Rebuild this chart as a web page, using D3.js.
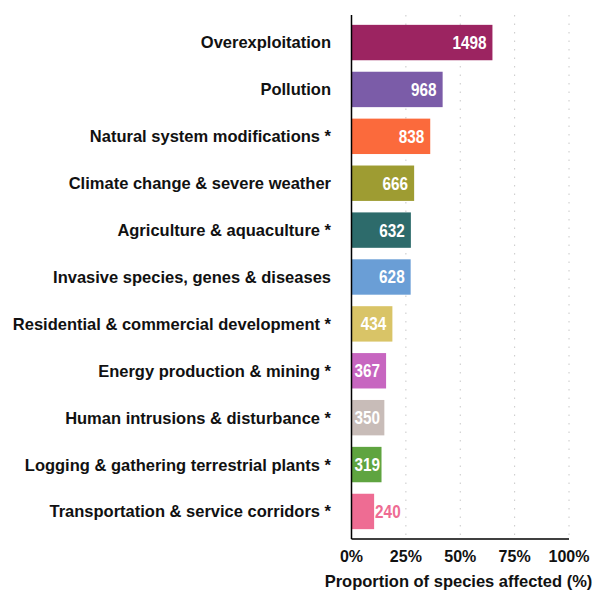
<!DOCTYPE html>
<html>
<head>
<meta charset="utf-8">
<script src="https://cdn.jsdelivr.net/npm/d3@7"></script>
<style>
  html, body { margin: 0; padding: 0; background: #ffffff; }
  svg { display: block; }
  text { font-family: "Liberation Sans", Arial, sans-serif; font-weight: bold; }
</style>
</head>
<body>
<svg id="chart" width="596" height="590"></svg>
<script>
// ---- data ----
const categories = [
  "Overexploitation",
  "Pollution",
  "Natural system modifications *",
  "Climate change & severe weather",
  "Agriculture & aquaculture *",
  "Invasive species, genes & diseases",
  "Residential & commercial development *",
  "Energy production & mining *",
  "Human intrusions & disturbance *",
  "Logging & gathering terrestrial plants *",
  "Transportation & service corridors *"
];
const speciesCounts = [1498, 968, 838, 666, 632, 628, 434, 367, 350, 319, 240];
const percentAffected = [64.8, 41.9, 36.2, 28.8, 27.3, 27.2, 18.8, 15.9, 15.1, 13.8, 10.4];
const barColors = ["#9c2461", "#7b5ca8", "#fb6a3c", "#9e9c32", "#2d6b6b", "#6a9ed6",
                   "#d9c467", "#c766c0", "#c8bcb8", "#5fa440", "#ee6c93"];
const xTicks = [0, 25, 50, 75, 100];
const xTickLabels = ["0%", "25%", "50%", "75%", "100%"];
const xAxisTitle = "Proportion of species affected (%)";

// ---- layout ----
const svg = d3.select("#chart");
const plotLeft = 351.5, plotRight = 569, plotTop = 15, plotBottom = 539;

const x = d3.scaleLinear().domain([0, 100]).range([plotLeft, plotRight]);
const y = d3.scaleBand().domain(categories).range([plotTop, plotBottom])
  .paddingInner(0.245).paddingOuter(0.21);

// gridlines (dotted)
svg.append("g").selectAll("line")
  .data(xTicks.slice(1))
  .join("line")
  .attr("x1", d => x(d)).attr("x2", d => x(d))
  .attr("y1", plotTop).attr("y2", plotBottom)
  .attr("stroke", "#c8c8c8")
  .attr("stroke-width", 1)
  .attr("stroke-dasharray", "1.5,7");

// bars
const rows = categories.map((c, i) => ({ c, n: speciesCounts[i], p: percentAffected[i], col: barColors[i] }));
svg.append("g").selectAll("rect")
  .data(rows)
  .join("rect")
  .attr("x", x(0))
  .attr("y", d => y(d.c))
  .attr("width", d => x(d.p) - x(0))
  .attr("height", y.bandwidth())
  .attr("fill", d => d.col);

// value labels (condensed)
const lbl = svg.append("g").selectAll("text")
  .data(rows)
  .join("text")
  .attr("y", d => y(d.c) + y.bandwidth() / 2)
  .attr("dy", "0.36em")
  .style("font-size", "18px")
  .text(d => d.n);
lbl.each(function(d) {
  const w = this.getComputedTextLength() * 0.85;
  const t = d3.select(this);
  t.attr("textLength", w).attr("lengthAdjust", "spacingAndGlyphs");
  const barEnd = x(d.p);
  const xr = Math.max(barEnd - 6, x(0) + 3 + w);
  if (xr <= barEnd + 1) {
    t.attr("x", xr - w).attr("fill", "#ffffff");
  } else {
    t.attr("x", barEnd + 1).attr("fill", d.col);
  }
});

// category labels
svg.append("g").selectAll("text")
  .data(categories)
  .join("text")
  .attr("x", 331)
  .attr("y", d => y(d) + y.bandwidth() / 2)
  .attr("dy", "0.36em")
  .attr("text-anchor", "end")
  .attr("fill", "#111111")
  .style("font-size", "16.5px")
  .text(d => d);

// axes lines
svg.append("line")
  .attr("x1", x(0)).attr("x2", x(0))
  .attr("y1", plotTop).attr("y2", plotBottom)
  .attr("stroke", "#000").attr("stroke-width", 1.5);
svg.append("line")
  .attr("x1", x(0)).attr("x2", x(100))
  .attr("y1", plotBottom).attr("y2", plotBottom)
  .attr("stroke", "#000").attr("stroke-width", 1.5);

// x tick labels
svg.append("g").selectAll("text")
  .data(xTicks)
  .join("text")
  .attr("x", d => x(d))
  .attr("y", 556)
  .attr("dy", "0.36em")
  .attr("text-anchor", "middle")
  .attr("fill", "#111")
  .style("font-size", "16px")
  .text((d, i) => xTickLabels[i]);

// x axis title
svg.append("text")
  .attr("x", 458.5)
  .attr("y", 581)
  .attr("dy", "0.36em")
  .attr("text-anchor", "middle")
  .attr("fill", "#111")
  .style("font-size", "16.5px")
  .text(xAxisTitle);
</script>
</body>
</html>
